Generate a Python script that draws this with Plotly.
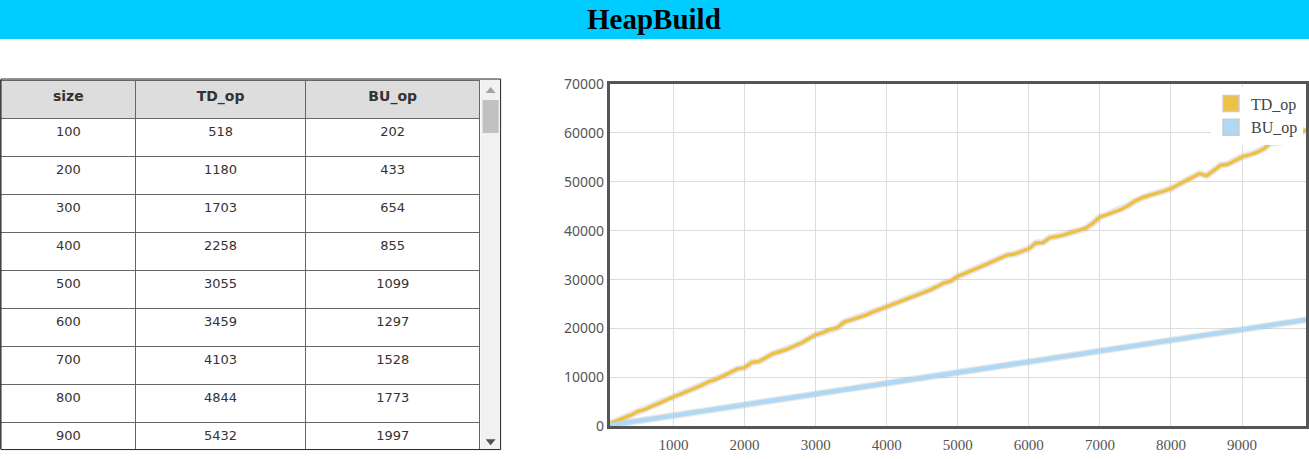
import plotly.graph_objects as go

W, H = 1309, 459

sizes = list(range(100, 10000, 100))
td_op = [518, 1180, 1703, 2258, 3055, 3459, 4103, 4844, 5432, 6010,
         6580, 7150, 7790, 8420, 9150, 9600, 10300, 10980, 11750, 11980,
         13050, 13250, 14100, 14850, 15300, 15750, 16420, 17050, 17900, 18700,
         19150, 19800, 20100, 21300, 21750, 22150, 22700, 23350, 23900, 24450,
         25050, 25500, 26150, 26700, 27300, 27800, 28500, 29300, 29700, 30650,
         31250, 31800, 32500, 33100, 33750, 34500, 35050, 35250, 35700, 36300,
         37500, 37600, 38600, 38800, 39200, 39650, 40100, 40500, 41500, 42800,
         43300, 43800, 44350, 45150, 46100, 46800, 47300, 47700, 48100, 48600,
         49400, 50100, 50900, 51700, 51250, 52300, 53400, 53600, 54400, 55100,
         55500, 55950, 56700, 57900, 58100, 58250, 58900, 59700, 60700]
bu_op = [202, 433, 654, 855, 1099, 1297, 1528, 1773, 1997, 2210,
         2420, 2650, 2860, 3080, 3310, 3530, 3750, 3960, 4190, 4400,
         4620, 4850, 5060, 5280, 5500, 5710, 5940, 6160, 6370, 6600,
         6810, 7040, 7250, 7490, 7700, 7920, 8140, 8350, 8580, 8800,
         9010, 9240, 9450, 9680, 9900, 10110, 10340, 10560, 10770, 11000,
         11220, 11430, 11660, 11880, 12090, 12320, 12540, 12750, 12980, 13200,
         13410, 13640, 13860, 14070, 14300, 14520, 14740, 14950, 15180, 15400,
         15610, 15840, 16060, 16270, 16500, 16720, 16930, 17160, 17380, 17600,
         17810, 18040, 18250, 18480, 18700, 18910, 19140, 19360, 19570, 19800,
         20020, 20240, 20450, 20680, 20900, 21110, 21340, 21560, 21770]

columns = ["size", "TD_op", "BU_op"]
title_text = "HeapBuild"
x_ticks = [1000, 2000, 3000, 4000, 5000, 6000, 7000, 8000, 9000]
y_ticks = [0, 10000, 20000, 30000, 40000, 50000, 60000, 70000]

TD_COLOR = "#EEC045"
BU_COLOR = "#B0D7F3"

# the photographed page shows a small vertical offset/scale; positions below
# are given in target-picture pixels and mapped to page pixels
V_OFF, V_SCALE = 10.0, 0.958


def px(x):
    return x / W


def py(y_pic):
    y_page = (y_pic - V_OFF) / V_SCALE
    return 1 - y_page / H


def clamp01(v):
    return max(0.0, min(1.0, v))


ROW_H = 38

fig = go.Figure()

fig.add_trace(go.Table(
    domain=dict(x=[px(1), px(481)], y=[clamp01(py(455)), py(80)]),
    columnwidth=[135, 170, 175],
    header=dict(values=[f"<b>{c}</b>" for c in columns],
                fill_color="#DDDDDD", line_color="#666666", line_width=1,
                font=dict(family="DejaVu Sans", size=14, color="#333333"),
                align="center", height=ROW_H),
    cells=dict(values=[sizes, td_op, bu_op],
               fill_color="white", line_color="#666666", line_width=1,
               font=dict(family="DejaVu Sans", size=13, color="#333333"),
               align="center", height=ROW_H),
))

for ys in (td_op, bu_op):
    fig.add_trace(go.Scatter(x=sizes, y=ys, mode="lines", hoverinfo="skip",
                             line=dict(color="rgba(120,120,120,0.18)", width=7),
                             showlegend=False, xaxis="x", yaxis="y"))

fig.add_trace(go.Scatter(x=sizes, y=td_op, mode="lines", name="TD_op",
                         line=dict(color=TD_COLOR, width=3.5),
                         showlegend=False, xaxis="x", yaxis="y"))
fig.add_trace(go.Scatter(x=sizes, y=bu_op, mode="lines", name="BU_op",
                         line=dict(color=BU_COLOR, width=4.5),
                         showlegend=False, xaxis="x", yaxis="y"))
for name, col in [("TD_op", TD_COLOR), ("BU_op", BU_COLOR)]:
    fig.add_trace(go.Scatter(x=[None], y=[None], mode="markers", name=name,
                             marker=dict(symbol="square", size=17, color=col,
                                         line=dict(color="#CCCCCC", width=1.5)),
                             showlegend=True))

shapes = [
    # title bar
    dict(type="rect", xref="paper", yref="paper", x0=-0.01, x1=1.01,
         y0=py(39), y1=py(-2), fillcolor="#00CCFF", line_width=0, layer="below"),
    # scrollbar track and thumb
    dict(type="rect", xref="paper", yref="paper", x0=px(481), x1=px(501),
         y0=clamp01(py(455)), y1=py(80), fillcolor="#F1F1F1", line_width=0),
    dict(type="rect", xref="paper", yref="paper", x0=px(483), x1=px(499),
         y0=py(133), y1=py(100), fillcolor="#C1C1C1", line_width=0),
    # table outer border
    dict(type="rect", xref="paper", yref="paper", x0=px(1), x1=px(501),
         y0=clamp01(py(455)) + 0.001, y1=py(79), line=dict(color="#222222", width=1)),
    # scroll arrows
    dict(type="path", xref="paper", yref="paper",
         path=f"M {px(486)},{py(93)} L {px(496)},{py(93)} L {px(491)},{py(87)} Z",
         fillcolor="#A3A3A3", line_width=0),
    dict(type="path", xref="paper", yref="paper",
         path=f"M {px(486)},{py(439)} L {px(496)},{py(439)} L {px(491)},{py(445)} Z",
         fillcolor="#505050", line_width=0),
]

fig.update_layout(
    width=W, height=H,
    margin=dict(l=0, r=0, t=0, b=0),
    paper_bgcolor="white", plot_bgcolor="white",
    shapes=shapes,
    annotations=[dict(text=f"<b>{title_text}</b>", xref="paper", yref="paper",
                      x=0.5, y=py(19), xanchor="center", yanchor="middle",
                      showarrow=False,
                      font=dict(family="Liberation Serif", size=29, color="black"))],
    xaxis=dict(domain=[px(610), px(1307)], range=[100, 9900],
               tickvals=x_ticks, showgrid=True, gridcolor="#DDDDDD",
               showline=True, linecolor="#555555", linewidth=2.5, mirror=True,
               zeroline=False, ticks="outside", ticklen=3, tickcolor="rgba(0,0,0,0)",
               tickfont=dict(family="Liberation Serif", size=15, color="#555555")),
    yaxis=dict(domain=[py(426), py(84)], range=[0, 70000],
               tickvals=y_ticks, showgrid=True, gridcolor="#DDDDDD",
               showline=True, linecolor="#555555", linewidth=2.5, mirror=True,
               zeroline=False, ticks="", tickformat="d",
               tickfont=dict(family="Noto Sans", size=14, color="#555555")),
    legend=dict(x=px(1304), y=py(86.5), xanchor="right", yanchor="top",
                bgcolor="white", borderwidth=0,
                font=dict(family="Liberation Serif", size=16, color="#444444"),
                tracegroupgap=0),
    showlegend=True,
)

fig.write_html("out.html")
